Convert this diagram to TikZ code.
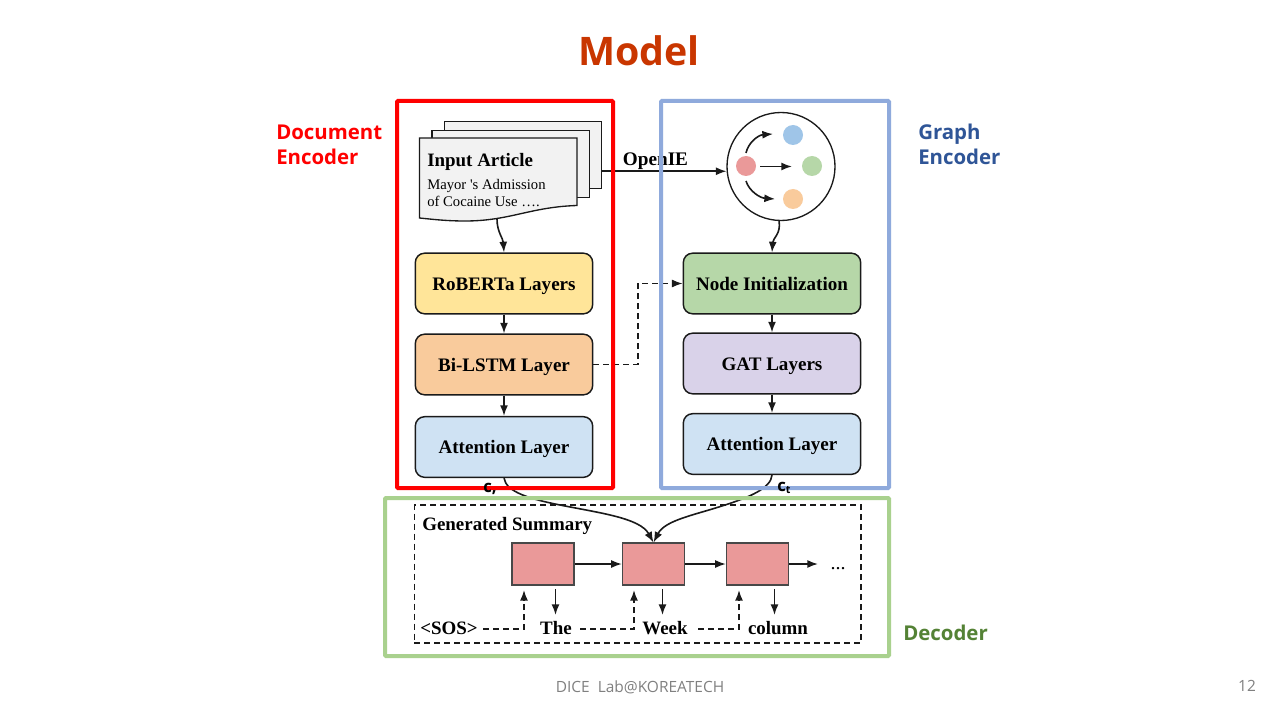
\documentclass[tikz,border=0pt]{standalone}
\usepackage{fontspec}
\setmainfont{Liberation Serif}
\newfontfamily\uifont{Open Sans}
\usetikzlibrary{arrows.meta,calc}
\definecolor{ink}{HTML}{1A1A1A}
\definecolor{cellred}{HTML}{EA9999}
\definecolor{titlecol}{HTML}{C93600}
\definecolor{graphblue}{HTML}{2F5597}
\definecolor{decgreen}{HTML}{548235}
\definecolor{layeryel}{HTML}{FFE599}
\definecolor{layerora}{HTML}{F9CB9C}
\definecolor{layerblu}{HTML}{CFE2F3}
\definecolor{layergrn}{HTML}{B6D7A8}
\definecolor{layerpur}{HTML}{D9D2E9}
\definecolor{dotblue}{HTML}{9FC5E8}
\definecolor{frameblue}{HTML}{8FAADC}
\definecolor{framegreen}{HTML}{A9D18E}
\tikzset{
  tip/.style={-{Latex[length=8pt,width=6pt]}},
  conn/.style={draw=ink,line width=1.2pt,tip},
  dconn/.style={conn,dash pattern=on 4.5pt off 3pt},
  layerbox/.style={draw=ink,line width=1.1pt,rounded corners=7pt,minimum width=133pt,minimum height=45.5pt,text height=10pt,text depth=0pt,inner ysep=0pt,font=\bfseries\fontsize{14.3}{14}\selectfont},
  sheet/.style={draw=ink,line width=1pt,fill=black!5,minimum width=118pt,minimum height=50pt,inner sep=0pt},
  dot/.style={circle,inner sep=0pt,minimum size=15pt},
  cell/.style={draw=ink!80,line width=1pt,fill=cellred,minimum width=46.5pt,minimum height=31.5pt,inner sep=0pt},
  word/.style={font=\bfseries\fontsize{14.2}{14}\selectfont,inner sep=0pt,anchor=base},
  frame/.style={line width=3pt,draw,rounded corners=0.8pt,inner sep=0pt},
  side/.style={font=\uifont\bfseries\fontsize{15.3}{18.7}\selectfont,anchor=west,inner sep=0pt,align=left},
  cmark/.style={font=\uifont\bfseries\fontsize{12.5}{12}\selectfont,inner sep=0pt,anchor=base west},
  foottext/.style={font=\uifont\fontsize{11.6}{12}\selectfont,text=black!50,inner sep=0pt},
}
\begin{document}
\begin{tikzpicture}[x=0.75pt,y=-0.75pt]
\useasboundingbox (0,0) rectangle (1280,720);
\fill[white] (0,0) rectangle (1280,720);

\node[font=\uifont\bfseries\fontsize{29.5}{30}\selectfont,text=titlecol,inner sep=0pt] (title) at (639,51) {Model};
\node[side,text=red] (doc) at (276,144.5) {Document\\Encoder};
\node[side,text=graphblue] (graph) at (918,144.5) {Graph\\Encoder};
\node[side,text=decgreen] (dec) at (903,633) {Decoder};

% paper stack
\node[sheet] (back) at (523,155) {};
\node[sheet] (middle) at (510.5,164) {};
\coordinate (frontbottom) at (497,219);
\filldraw[draw=ink,line width=1pt,fill=black!5] (419.5,138) -- (577,138) -- (577,205.5)
  .. controls (530,207) and (510,221) .. (465,221) .. controls (445,221) and (430,219) .. (419.5,218) -- cycle;
\node[font=\bfseries\fontsize{14.2}{14}\selectfont,anchor=west,inner sep=0pt] (inart) at (427,161.5) {Input Article};
\node[font=\fontsize{11}{12.9}\selectfont,anchor=west,inner sep=0pt,align=left] (inbody) at (427,193) {Mayor \textquotesingle s Admission\\of Cocaine Use ….};

% layers
\node[layerbox,fill=layeryel] (rob) at (504,283.5) {RoBERTa Layers};
\node[layerbox,fill=layerora] (bil) at (504,364.5) {Bi-LSTM Layer};
\node[layerbox,fill=layerblu] (att1) at (504,447) {Attention Layer};
\node[layerbox,fill=layergrn] (ini) at (772,283.5) {Node Initialization};
\node[layerbox,fill=layerpur] (gat) at (772,363.5) {GAT Layers};
\node[layerbox,fill=layerblu] (att2) at (772,444) {Attention Layer};

% graph circle
\node[circle,draw=ink,line width=1pt,minimum size=81pt,inner sep=0pt] (big) at (781,166.5) {};
\node[dot,fill=cellred] (dr) at (746,166) {};
\node[dot,fill=dotblue] (db) at (793,135) {};
\node[dot,fill=layergrn] (dg) at (812,166) {};
\node[dot,fill=layerora] (do) at (793,199) {};
\coordinate (drt) at (746,153);
\coordinate (drb) at (746,181);
\coordinate (dbl) at (773,134);
\coordinate (dol) at (775,199);
\coordinate (drr) at (760,166.5);
\coordinate (dgl) at (792,166.5);

\node[font=\bfseries\fontsize{14.4}{14}\selectfont,inner sep=0pt] (oie) at (655.5,161.5) {OpenIE};

% connectors, encoder part
\draw[conn] (frontbottom) .. controls (497,232) and (503,238) .. (rob.north);
\draw[conn] (rob) -- (bil);
\draw[conn] (bil) -- (att1);
\draw[conn] (ini) -- (gat);
\draw[conn] (gat) -- (att2);
\draw[conn] (back.east |- big.185) -- (big.185);
\draw[conn] (big.-92) .. controls (781,234) and (773,238) .. (ini.north);
\draw[conn] (drt) .. controls (748,143) and (758,135) .. (dbl);
\draw[conn] (drr) -- (dgl);
\draw[conn] (drb) .. controls (749,191) and (760,198) .. (dol);
\coordinate (bend1) at (638,364.5);
\coordinate (bend2) at (638,283.5);
\draw[dconn] (bil.east) -- (bend1) -- (bend2) -- (ini.west);

% decoder
\node[draw=ink,line width=1pt,dash pattern=on 4.5pt off 3pt,minimum width=335pt,minimum height=103.5pt,inner sep=0pt] (gen) at (637.5,574) {};
\node[font=\bfseries\fontsize{14.2}{14}\selectfont,anchor=west,inner sep=0pt] (gs) at (422,525.5) {Generated Summary};
\node[cell] (c1) at (543,564) {};
\node[cell] (c2) at (653.5,564) {};
\node[cell] (c3) at (757.5,564) {};
\node[inner sep=0pt,font=\fontsize{15}{15}\selectfont] (more) at (838,568.5) {...};
\coordinate (moreend) at (818,564);
\node[word] (sos) at (449,634.5) {<SOS>};
\node[word] (the) at (556,634.5) {The};
\node[word] (week) at (665,634.5) {Week};
\node[word] (col) at (778,634.5) {column};
\draw[conn] (c1) -- (c2);
\draw[conn] (c2) -- (c3);
\draw[conn] (c3) -- (moreend);
\coordinate (up1) at (524,590);
\coordinate (up2) at (634,590);
\coordinate (up3) at (739,590);
\coordinate (k1) at (524,629);
\coordinate (k2) at (634,629);
\coordinate (k3) at (739,629);
\coordinate (s1) at (483,629);
\coordinate (s2) at (580,629);
\coordinate (s3) at (698,629);
\draw[dconn] (s1) -- (k1) -- (up1);
\draw[dconn] (s2) -- (k2) -- (up2);
\draw[dconn] (s3) -- (k3) -- (up3);
\coordinate (dn1) at (555.5,589);
\coordinate (dn2) at (662.5,589);
\coordinate (dn3) at (774.5,589);
\coordinate (de1) at (555.5,615);
\coordinate (de2) at (662.5,615);
\coordinate (de3) at (774.5,615);
\draw[conn] (dn1) -- (de1);
\draw[conn] (dn2) -- (de2);
\draw[conn] (dn3) -- (de3);
\draw[conn] (att1.south) .. controls (506,492) and (530,499) .. (560,505) .. controls (600,513) and (640,518) .. (653.5,542.5);
\draw[conn] (att2.south) .. controls (771,488) and (750,497) .. (725,505) .. controls (695,515) and (665,520) .. (653.5,542.5);

% frames over the figure
\node[frame,draw=red,minimum width=162pt,minimum height=290.25pt] (fr) at (505,294.5) {};
\node[frame,draw=frameblue,minimum width=171pt,minimum height=290.25pt] (fb) at (775,294.5) {};
\node[frame,draw=framegreen,minimum width=378pt,minimum height=118.5pt] (fg) at (637,577) {};

\node[cmark] (cs) at (483,492) {c,};
\node[cmark] (ct) at (777,491) {c\raisebox{-2pt}{\fontsize{8}{8}\selectfont t}};

\node[foottext] (foot) at (640,687) {DICE\ \ Lab@KOREATECH};
\node[foottext] (page) at (1247,686) {12};
\end{tikzpicture}
\end{document}
